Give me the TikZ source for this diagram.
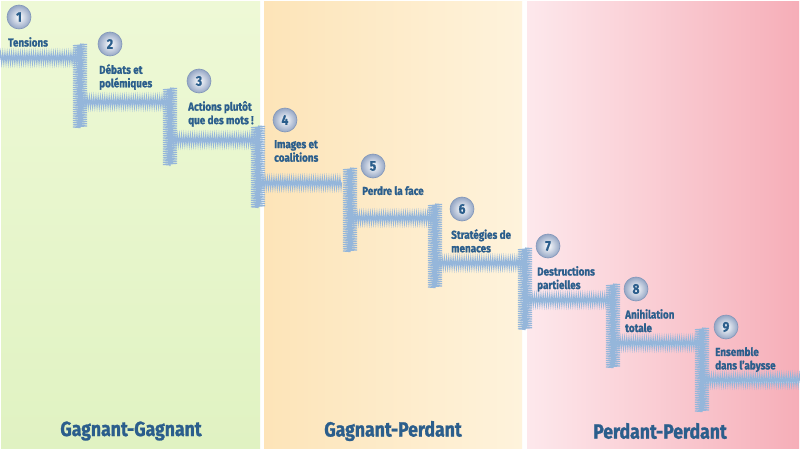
\documentclass[tikz,border=0pt]{standalone}
\usepackage{fontspec}
\setmainfont{Fira Sans}[FakeStretch=0.86,BoldFeatures={FakeBold=1.2}]
\usetikzlibrary{positioning,decorations.pathmorphing}
\definecolor{txtblue}{HTML}{2B5E8C}
\definecolor{stairblue}{HTML}{95B6DA}
\definecolor{numrim}{HTML}{8196BA}
\definecolor{greenA}{HTML}{E0F2C2}
\definecolor{greenB}{HTML}{EEF9D6}
\definecolor{orangeA}{HTML}{FDE4B8}
\definecolor{orangeB}{HTML}{FEF3DC}
\definecolor{pinkA}{HTML}{FDE8EC}
\definecolor{pinkB}{HTML}{F6AEB8}

\begin{document}
\begin{tikzpicture}[x=1pt,y=-1pt]
\tikzset{num/.style = {shape=circle,draw=numrim,line width=0.6pt,minimum size=24pt,inner sep=0pt,inner color=white,outer color=numrim!85,font=\bfseries\fontsize{14}{14}\selectfont,text=txtblue}}
\tikzset{lbl/.style = {anchor=north west,align=left,inner sep=0pt,font=\bfseries\fontsize{11.5}{13.5}\selectfont,text=txtblue}}
\tikzset{zone/.style = {font=\bfseries\fontsize{20.5}{21}\selectfont,text=txtblue}}
\tikzset{band/.style = {draw=stairblue!35,line width=5pt}}
\tikzset{tread/.style = {decorate,decoration={zigzag,segment length=2.2pt,amplitude=5pt},draw=stairblue,line width=1.1pt}}
\tikzset{riser/.style = {decorate,decoration={zigzag,segment length=2.2pt,amplitude=7pt},draw=stairblue,line width=1.1pt}}
\useasboundingbox (0,0) rectangle (800,452);
\fill[white] (0,0) rectangle (800,452);

% panels
\shade[bottom color=greenA,top color=greenB] (1,2) rectangle (260,448);
\shade[left color=orangeA,right color=orangeB] (264,2) rectangle (522,448);
\shade[shading angle=135,left color=pinkA,right color=pinkB] (527,2) rectangle (799,448);

% staircase
\draw[band] (0,58) -- (80,58) (80,102) -- (170,102) (170,140) -- (258,140)
  (258,183) -- (342,183) (350,218) -- (435,218) (435,263) -- (525,263)
  (525,300) -- (613,300) (613,343) -- (702,343) (702,380) -- (800,380);
\draw[tread] (0,58) -- (80,58);
\draw[riser] (80,44) -- (80,128);
\draw[tread] (80,102) -- (170,102);
\draw[riser] (170,88) -- (170,166);
\draw[tread] (170,140) -- (258,140);
\draw[riser] (258,126) -- (258,208);
\draw[tread] (258,183) -- (342,183);
\draw[riser] (350,168) -- (350,252);
\draw[tread] (350,218) -- (435,218);
\draw[riser] (435,204) -- (435,288);
\draw[tread] (435,263) -- (525,263);
\draw[riser] (525,248) -- (525,330);
\draw[tread] (525,300) -- (613,300);
\draw[riser] (613,284) -- (613,368);
\draw[tread] (613,343) -- (702,343);
\draw[riser] (702,328) -- (702,412);
\draw[tread] (702,380) -- (800,380);

% steps
\node[num] (n1) at (19,17) {1};
\node[num] (n2) at (110,44) {2};
\node[num] (n3) at (199,81) {3};
\node[num] (n4) at (285,120) {4};
\node[num] (n5) at (373,166) {5};
\node[num] (n6) at (462,209) {6};
\node[num] (n7) at (548,246) {7};
\node[num] (n8) at (636,289) {8};
\node[num] (n9) at (726,327) {9};

\node[lbl] (l1) at ([xshift=-11pt,yshift=-20pt]n1.center) {Tensions};
\node[lbl] (l2) at ([xshift=-11pt,yshift=-20pt]n2.center) {Débats et\\polémiques};
\node[lbl] (l3) at ([xshift=-11pt,yshift=-20pt]n3.center) {Actions plutôt\\que des mots !};
\node[lbl] (l4) at ([xshift=-11pt,yshift=-20pt]n4.center) {Images et\\coalitions};
\node[lbl] (l5) at ([xshift=-11pt,yshift=-20pt]n5.center) {Perdre la face};
\node[lbl] (l6) at ([xshift=-11pt,yshift=-20pt]n6.center) {Stratégies de\\menaces};
\node[lbl] (l7) at ([xshift=-11pt,yshift=-20pt]n7.center) {Destructions\\partielles};
\node[lbl] (l8) at ([xshift=-11pt,yshift=-20pt]n8.center) {Anihilation\\totale};
\node[lbl] (l9) at ([xshift=-11pt,yshift=-20pt]n9.center) {Ensemble\\dans l'abysse};

\node[zone] (g1) at (131,431) {Gagnant-Gagnant};
\node[zone] (g2) at (393,431) {Gagnant-Perdant};
\node[zone] (g3) at (660,431) {Perdant-Perdant};
\end{tikzpicture}
\end{document}
